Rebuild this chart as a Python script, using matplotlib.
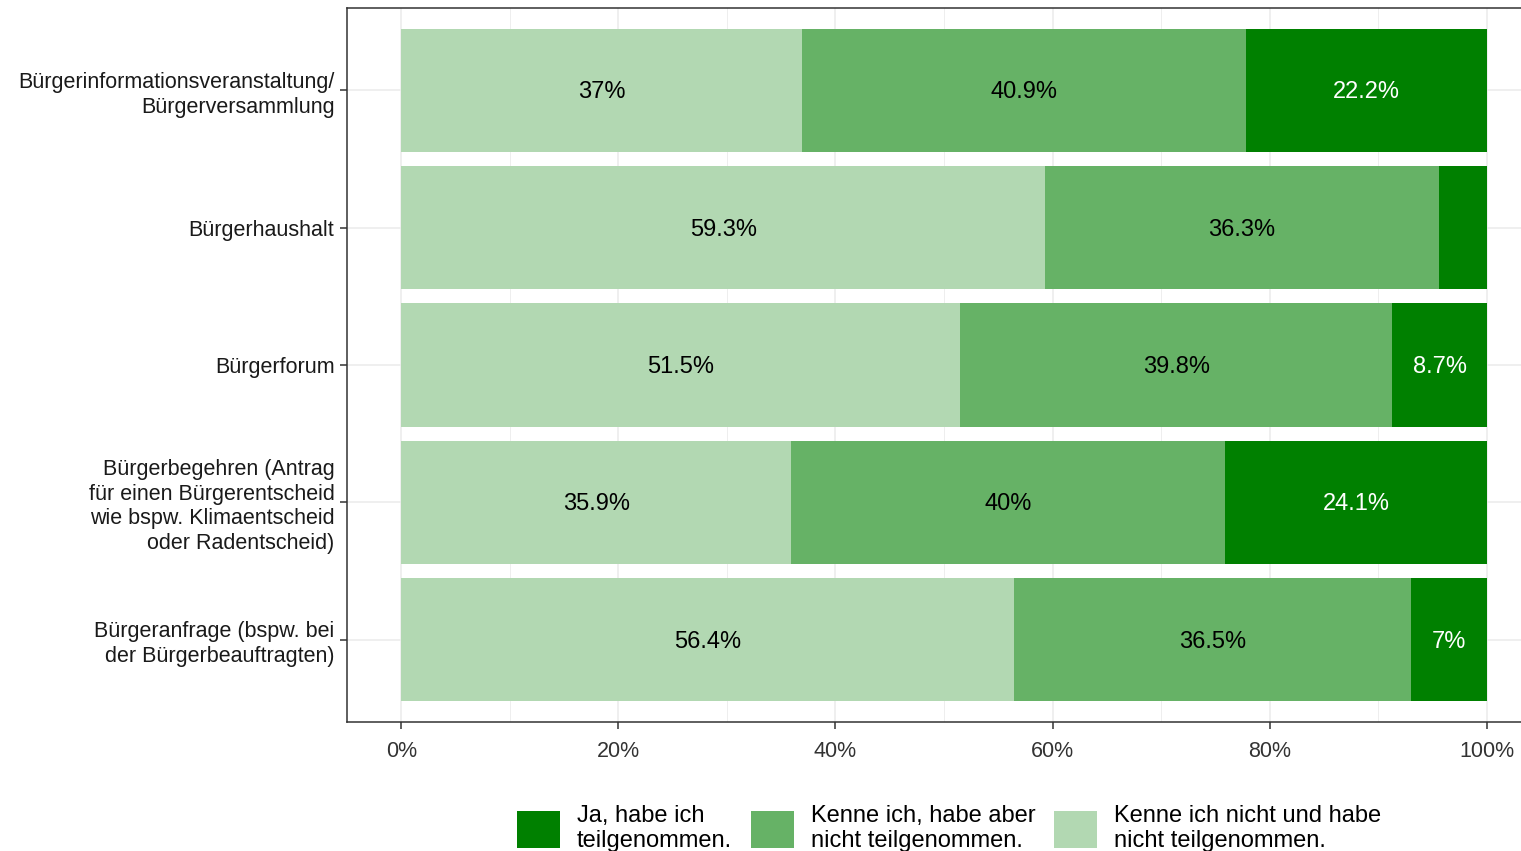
import numpy as np
import matplotlib.pyplot as plt

plt.rcParams['font.family'] = ['Liberation Sans', 'DejaVu Sans']

# data (top to bottom as shown)
categories = ['Bürgerinformationsveranstaltung/\nBürgerversammlung',
              'Bürgerhaushalt',
              'Bürgerforum',
              'Bürgerbegehren (Antrag\nfür einen Bürgerentscheid\nwie bspw. Klimaentscheid\noder Radentscheid)',
              'Bürgeranfrage (bspw. bei\nder Bürgerbeauftragten)']
kenne_nicht = [37.0, 59.3, 51.5, 35.9, 56.4]
kenne_nicht_teil = [40.9, 36.3, 39.8, 40.0, 36.5]
ja_teil = [22.2, 4.4, 8.7, 24.1, 7.0]

series_labels = ['Kenne ich nicht und habe\nnicht teilgenommen.',
                 'Kenne ich, habe aber\nnicht teilgenommen.',
                 'Ja, habe ich\nteilgenommen.']
colors = ['#B2D8B2', '#66B266', '#008000']
text_colors = ['black', 'black', 'white']
xticks = [0, 0.2, 0.4, 0.6, 0.8, 1.0]
xtick_labels = ['0%', '20%', '40%', '60%', '80%', '100%']

vals = np.array([kenne_nicht, kenne_nicht_teil, ja_teil])
shares = vals / vals.sum(axis=0)

fig = plt.figure(figsize=(15.21, 8.51), dpi=100)
ax = fig.add_axes([347 / 1521, 1 - 722 / 851, (1541 - 347) / 1521, (722 - 8) / 851])

n = len(categories)
ypos = np.arange(n)[::-1] + 1

# grid
for x in xticks:
    ax.axvline(x, color='#EBEBEB', lw=1.1, zorder=0)
for x in [0.1, 0.3, 0.5, 0.7, 0.9]:
    ax.axvline(x, color='#EBEBEB', lw=0.6, zorder=0)
for y in ypos:
    ax.axhline(y, color='#EBEBEB', lw=1.1, zorder=0)

left = np.zeros(n)
bars = []
for i in range(3):
    b = ax.barh(ypos, shares[i], left=left, height=0.9, color=colors[i],
                label=series_labels[i], zorder=2)
    bars.append(b)
    for j in range(n):
        if vals[i, j] >= 5:
            lab = ('%.1f' % vals[i, j]).rstrip('0').rstrip('.') + '%'
            ax.text(left[j] + shares[i, j] / 2, ypos[j] - 0.015, lab, ha='center',
                    va='center', color=text_colors[i], fontsize=17, zorder=3)
    left = left + shares[i]

ax.set_xlim(-0.05, 1.05)
ax.set_ylim(0.4, n + 0.6)
ax.set_xticks(xticks)
ax.set_xticklabels(xtick_labels, fontsize=15.5, color='#333333')
ax.set_yticks(ypos)
ax.set_yticklabels(categories, fontsize=15.5, color='#1A1A1A', linespacing=1.23)
ax.tick_params(length=5, color='#333333', width=1.1)
ax.tick_params(axis='x', pad=9)
ax.tick_params(axis='y', pad=4)
for s in ax.spines.values():
    s.set_color('#333333')
    s.set_linewidth(1.1)

handles = [bars[2], bars[1], bars[0]]
labels = [series_labels[2], series_labels[1], series_labels[0]]
fig.legend(handles, labels, loc='upper left', ncol=3,
           bbox_to_anchor=(517 / 1521, 1 - 805 / 851), frameon=False,
           fontsize=17, handlelength=1.82, handleheight=2.0,
           handletextpad=0.72, columnspacing=0.8, borderpad=0,
           borderaxespad=0, labelspacing=0)

fig.savefig('out.png', dpi=100)
